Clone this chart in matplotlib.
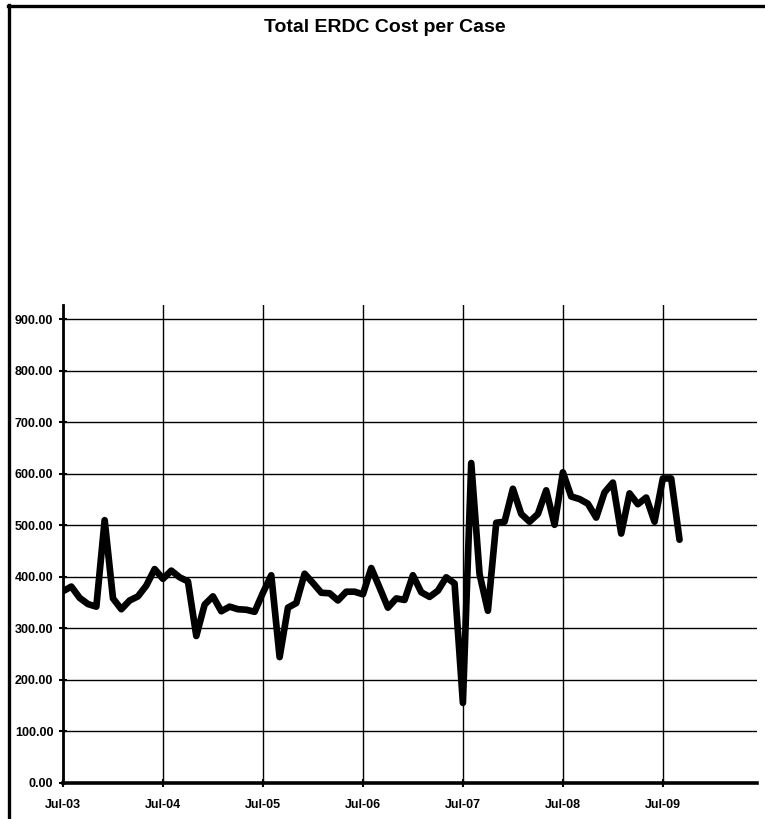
import numpy as np
import matplotlib
matplotlib.use('Agg')
import matplotlib.pyplot as plt
from matplotlib.lines import Line2D

plt.rcParams['font.family'] = ['Liberation Sans', 'DejaVu Sans']

# monthly cost per case, Jul-03 .. Sep-09
cost = [372, 381, 359, 347, 342, 510, 358, 337, 354, 362,
        383, 415, 396, 412, 399, 391, 285, 346, 362, 333,
        342, 337, 336, 332, 369, 403, 244, 340, 349, 406,
        388, 369, 368, 354, 371, 371, 366, 417, 379, 340,
        358, 355, 403, 370, 361, 373, 399, 387, 155, 621,
        405, 334, 505, 507, 571, 522, 507, 522, 568, 501,
        603, 556, 551, 542, 515, 564, 583, 484, 562, 541,
        554, 507, 591, 591, 472]
tick_pos = [0, 12, 24, 36, 48, 60, 72]
tick_lab = ['Jul-03', 'Jul-04', 'Jul-05', 'Jul-06', 'Jul-07', 'Jul-08', 'Jul-09']
y_ticks = [0, 100, 200, 300, 400, 500, 600, 700, 800, 900]

months = np.arange(len(cost))

fig = plt.figure(figsize=(7.65, 8.19), dpi=100)
ax = fig.add_axes([63/765, 1-782.7/819, (757-63)/765, (782.7-305)/819])

ax.plot(months, cost, color='black', linewidth=4.8, solid_joinstyle='round',
        solid_capstyle='round', zorder=3)

ax.set_xlim(0, 83.3)
ax.set_ylim(0, 928)
ax.set_xticks(tick_pos)
ax.set_xticklabels(tick_lab, fontsize=9, fontweight='bold')
ax.set_yticks(y_ticks)
ax.set_yticklabels(['%.2f' % v for v in y_ticks], fontsize=9, fontweight='bold')

ax.grid(True, color='black', linewidth=1.0)
ax.set_axisbelow(True)
for s in ['top', 'right']:
    ax.spines[s].set_visible(False)
ax.spines['left'].set_linewidth(2.0)
ax.spines['bottom'].set_linewidth(2.6)
ax.tick_params(axis='x', direction='inout', length=6, width=1.5, pad=9)
ax.tick_params(axis='y', direction='inout', length=6, width=1.5, pad=4)

fig.text(385/765, 1-27/819, 'Total ERDC Cost per Case', ha='center', va='center',
         fontsize=14, fontweight='bold')

# outer frame (top and left)
fig.add_artist(Line2D([8.5/765, 8.5/765], [0, 1-5/819], color='black', linewidth=2.4,
                      transform=fig.transFigure))
fig.add_artist(Line2D([7.5/765, 1], [1-5.5/819, 1-5.5/819], color='black', linewidth=2.4,
                      transform=fig.transFigure))

plt.savefig('out.png', dpi=100)
